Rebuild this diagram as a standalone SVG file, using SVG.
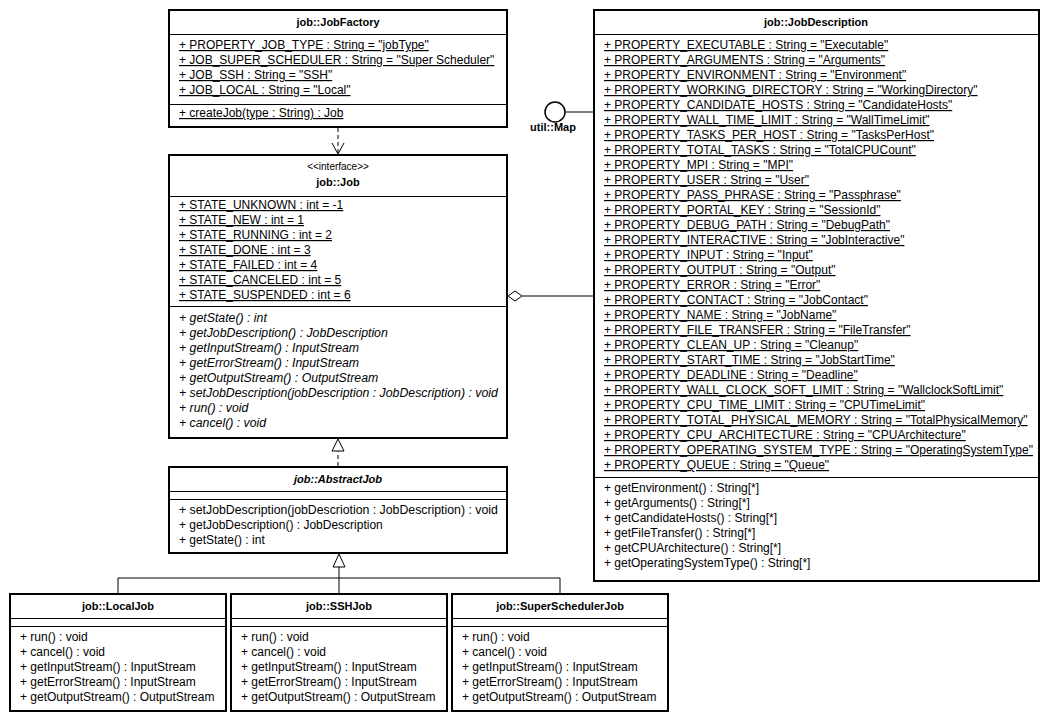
<svg xmlns="http://www.w3.org/2000/svg" width="1049" height="721" viewBox="0 0 1049 721">
<style>
.bg{fill:#fff}
.box{fill:#fff;stroke:#000;stroke-width:2}
.sep{stroke:#000;stroke-width:1;fill:none}
.ln{stroke:#000;stroke-width:1;fill:none}
.dash{stroke:#000;stroke-width:1;fill:none;stroke-dasharray:4 3}
text{font-family:"Liberation Sans",Arial,sans-serif;font-size:12px;fill:#000}
.b{font-weight:bold;font-size:11px}
.u{text-decoration:underline}
.i{font-style:italic;font-size:12.3px}
.c{text-anchor:middle}
</style>
<rect class="bg" x="0" y="0" width="1049" height="721"/>

<g id="connectors">
  <line class="dash" x1="338" y1="128" x2="338" y2="153"/>
  <polyline class="ln" points="332,143 338,154 344,143"/>
  <line class="dash" x1="338" y1="466" x2="338" y2="451"/>
  <polygon class="ln" points="338,439 332,451 344,451" style="fill:#fff"/>
  <polygon class="ln" points="339,554 333,567 345,567" style="fill:#fff"/>
  <line class="ln" x1="339" y1="567" x2="339" y2="594"/>
  <line class="ln" x1="118" y1="578" x2="560" y2="578"/>
  <line class="ln" x1="118" y1="578" x2="118" y2="594"/>
  <line class="ln" x1="560" y1="578" x2="560" y2="594"/>
  <polygon class="ln" points="508,296 515,291 522,296 515,301" style="fill:#fff"/>
  <line class="ln" x1="522" y1="296" x2="594" y2="296"/>
  <line class="ln" x1="565" y1="112" x2="594" y2="112"/>
</g>

<g id="util-Map">
  <circle cx="555" cy="112" r="10" fill="#fff" stroke="#000" stroke-width="1.5"/>
  <text class="b c" x="553" y="131">util::Map</text>
</g>

<g id="JobFactory">
  <rect class="box" x="169" y="10" width="338" height="117"/>
  <text class="b c" x="338" y="26">job::JobFactory</text>
  <line class="sep" x1="169" y1="34.5" x2="507" y2="34.5"/>
  <text class="u" x="179" y="49">+ PROPERTY_JOB_TYPE : String = "jobType"</text>
  <text class="u" x="179" y="64">+ JOB_SUPER_SCHEDULER : String = "Super Scheduler"</text>
  <text class="u" x="179" y="79">+ JOB_SSH : String = "SSH"</text>
  <text class="u" x="179" y="94">+ JOB_LOCAL : String = "Local"</text>
  <line class="sep" x1="169" y1="104.5" x2="507" y2="104.5"/>
  <text class="u" x="179" y="117">+ createJob(type : String) : Job</text>
</g>

<g id="Job">
  <rect class="box" x="169" y="155" width="338" height="283"/>
  <text class="c" x="338" y="170" style="font-size:10px">&lt;&lt;interface&gt;&gt;</text>
  <text class="b c" x="338" y="186">job::Job</text>
  <line class="sep" x1="169" y1="196.5" x2="507" y2="196.5"/>
  <text class="u" x="179" y="209">+ STATE_UNKNOWN : int = -1</text>
  <text class="u" x="179" y="224">+ STATE_NEW : int = 1</text>
  <text class="u" x="179" y="239">+ STATE_RUNNING : int = 2</text>
  <text class="u" x="179" y="254">+ STATE_DONE : int = 3</text>
  <text class="u" x="179" y="269">+ STATE_FAILED : int = 4</text>
  <text class="u" x="179" y="284">+ STATE_CANCELED : int = 5</text>
  <text class="u" x="179" y="299">+ STATE_SUSPENDED : int = 6</text>
  <line class="sep" x1="169" y1="306.5" x2="507" y2="306.5"/>
  <text class="i" x="179" y="322">+ getState() : int</text>
  <text class="i" x="179" y="337">+ getJobDescription() : JobDescription</text>
  <text class="i" x="179" y="352">+ getInputStream() : InputStream</text>
  <text class="i" x="179" y="367">+ getErrorStream() : InputStream</text>
  <text class="i" x="179" y="382">+ getOutputStream() : OutputStream</text>
  <text class="i" x="179" y="397">+ setJobDescription(jobDescription : JobDescription) : void</text>
  <text class="i" x="179" y="412">+ run() : void</text>
  <text class="i" x="179" y="427">+ cancel() : void</text>
</g>

<g id="AbstractJob">
  <rect class="box" x="169" y="467" width="338" height="86"/>
  <text class="b c" x="338" y="483" style="font-style:italic">job::AbstractJob</text>
  <line class="sep" x1="169" y1="491.5" x2="507" y2="491.5"/>
  <line class="sep" x1="169" y1="499.5" x2="507" y2="499.5"/>
  <text x="179" y="514" style="font-size:12.3px">+ setJobDescription(jobDescriotion : JobDescription) : void</text>
  <text x="179" y="529">+ getJobDescription() : JobDescription</text>
  <text x="179" y="544">+ getState() : int</text>
</g>

<g id="LocalJob">
  <rect class="box" x="10" y="594" width="216" height="117"/>
  <text class="b c" x="118" y="610">job::LocalJob</text>
  <line class="sep" x1="10" y1="618.5" x2="226" y2="618.5"/>
  <line class="sep" x1="10" y1="626.5" x2="226" y2="626.5"/>
  <text x="20" y="641">+ run() : void</text>
  <text x="20" y="656">+ cancel() : void</text>
  <text x="20" y="671">+ getInputStream() : InputStream</text>
  <text x="20" y="686">+ getErrorStream() : InputStream</text>
  <text x="20" y="701">+ getOutputStream() : OutputStream</text>
</g>

<g id="SSHJob">
  <rect class="box" x="231" y="594" width="216" height="117"/>
  <text class="b c" x="339" y="610">job::SSHJob</text>
  <line class="sep" x1="231" y1="618.5" x2="447" y2="618.5"/>
  <line class="sep" x1="231" y1="626.5" x2="447" y2="626.5"/>
  <text x="241" y="641">+ run() : void</text>
  <text x="241" y="656">+ cancel() : void</text>
  <text x="241" y="671">+ getInputStream() : InputStream</text>
  <text x="241" y="686">+ getErrorStream() : InputStream</text>
  <text x="241" y="701">+ getOutputStream() : OutputStream</text>
</g>

<g id="SuperSchedulerJob">
  <rect class="box" x="452" y="594" width="216" height="117"/>
  <text class="b c" x="560" y="610">job::SuperSchedulerJob</text>
  <line class="sep" x1="452" y1="618.5" x2="668" y2="618.5"/>
  <line class="sep" x1="452" y1="626.5" x2="668" y2="626.5"/>
  <text x="462" y="641">+ run() : void</text>
  <text x="462" y="656">+ cancel() : void</text>
  <text x="462" y="671">+ getInputStream() : InputStream</text>
  <text x="462" y="686">+ getErrorStream() : InputStream</text>
  <text x="462" y="701">+ getOutputStream() : OutputStream</text>
</g>

<g id="JobDescription">
  <rect class="box" x="594" y="10" width="445" height="571"/>
  <text class="b c" x="816" y="26">job::JobDescription</text>
  <line class="sep" x1="594" y1="34.5" x2="1039" y2="34.5"/>
  <text class="u" x="604" y="49">+ PROPERTY_EXECUTABLE : String = "Executable"</text>
  <text class="u" x="604" y="64">+ PROPERTY_ARGUMENTS : String = "Arguments"</text>
  <text class="u" x="604" y="79">+ PROPERTY_ENVIRONMENT : String = "Environment"</text>
  <text class="u" x="604" y="94">+ PROPERTY_WORKING_DIRECTORY : String = "WorkingDirectory"</text>
  <text class="u" x="604" y="109">+ PROPERTY_CANDIDATE_HOSTS : String = "CandidateHosts"</text>
  <text class="u" x="604" y="124">+ PROPERTY_WALL_TIME_LIMIT : String = "WallTimeLimit"</text>
  <text class="u" x="604" y="139">+ PROPERTY_TASKS_PER_HOST : String = "TasksPerHost"</text>
  <text class="u" x="604" y="154">+ PROPERTY_TOTAL_TASKS : String = "TotalCPUCount"</text>
  <text class="u" x="604" y="169">+ PROPERTY_MPI : String = "MPI"</text>
  <text class="u" x="604" y="184">+ PROPERTY_USER : String = "User"</text>
  <text class="u" x="604" y="199">+ PROPERTY_PASS_PHRASE : String = "Passphrase"</text>
  <text class="u" x="604" y="214">+ PROPERTY_PORTAL_KEY : String = "SessionId"</text>
  <text class="u" x="604" y="229">+ PROPERTY_DEBUG_PATH : String = "DebugPath"</text>
  <text class="u" x="604" y="244">+ PROPERTY_INTERACTIVE : String = "JobInteractive"</text>
  <text class="u" x="604" y="259">+ PROPERTY_INPUT : String = "Input"</text>
  <text class="u" x="604" y="274">+ PROPERTY_OUTPUT : String = "Output"</text>
  <text class="u" x="604" y="289">+ PROPERTY_ERROR : String = "Error"</text>
  <text class="u" x="604" y="304">+ PROPERTY_CONTACT : String = "JobContact"</text>
  <text class="u" x="604" y="319">+ PROPERTY_NAME : String = "JobName"</text>
  <text class="u" x="604" y="334">+ PROPERTY_FILE_TRANSFER : String = "FileTransfer"</text>
  <text class="u" x="604" y="349">+ PROPERTY_CLEAN_UP : String = "Cleanup"</text>
  <text class="u" x="604" y="364">+ PROPERTY_START_TIME : String = "JobStartTime"</text>
  <text class="u" x="604" y="379">+ PROPERTY_DEADLINE : String = "Deadline"</text>
  <text class="u" x="604" y="394">+ PROPERTY_WALL_CLOCK_SOFT_LIMIT : String = "WallclockSoftLimit"</text>
  <text class="u" x="604" y="409">+ PROPERTY_CPU_TIME_LIMIT : String = "CPUTimeLimit"</text>
  <text class="u" x="604" y="424">+ PROPERTY_TOTAL_PHYSICAL_MEMORY : String = "TotalPhysicalMemory"</text>
  <text class="u" x="604" y="439">+ PROPERTY_CPU_ARCHITECTURE : String = "CPUArchitecture"</text>
  <text class="u" x="604" y="454">+ PROPERTY_OPERATING_SYSTEM_TYPE : String = "OperatingSystemType"</text>
  <text class="u" x="604" y="469">+ PROPERTY_QUEUE : String = "Queue"</text>
  <line class="sep" x1="594" y1="477.5" x2="1039" y2="477.5"/>
  <text x="604" y="492">+ getEnvironment() : String[*]</text>
  <text x="604" y="507">+ getArguments() : String[*]</text>
  <text x="604" y="522">+ getCandidateHosts() : String[*]</text>
  <text x="604" y="537">+ getFileTransfer() : String[*]</text>
  <text x="604" y="552">+ getCPUArchitecture() : String[*]</text>
  <text x="604" y="567">+ getOperatingSystemType() : String[*]</text>
</g>
</svg>
